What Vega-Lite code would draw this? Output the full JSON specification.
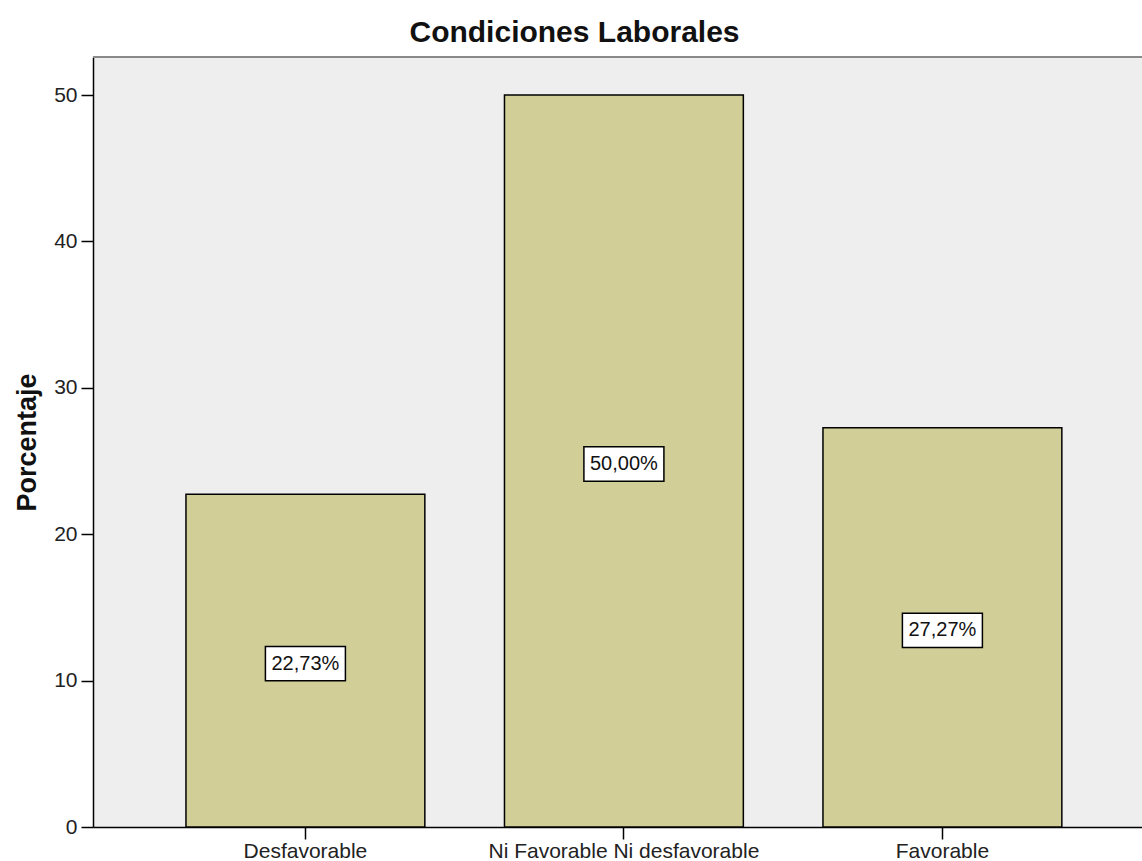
{
  "$schema": "https://vega.github.io/schema/vega-lite/v6.json",
  "autosize": "none",
  "width": 1049,
  "height": 770,
  "padding": {"left": 93, "top": 57, "right": 0, "bottom": 34},
  "background": "white",
  "title": {
    "text": "Condiciones Laborales",
    "font": "Liberation Sans",
    "fontSize": 30,
    "fontWeight": "bold",
    "color": "#111111",
    "anchor": "middle",
    "dx": -43,
    "dy": 30,
    "offset": 8,
    "baseline": "bottom"
  },
  "data": {
    "values": [
      {"condicion": "Desfavorable", "pct": 22.73, "label": "22,73%"},
      {"condicion": "Ni Favorable Ni desfavorable", "pct": 50.0, "label": "50,00%"},
      {"condicion": "Favorable", "pct": 27.27, "label": "27,27%"}
    ]
  },
  "layer": [
    {
      "mark": {"type": "rule", "color": "#8a8a8a", "strokeWidth": 2},
      "encoding": {
        "y": {"datum": 52.6, "type": "quantitative", "scale": {"domain": [0, 52.6], "nice": false}, "axis": null}
      }
    },
    {
      "mark": {"type": "bar", "fill": "#D2CE98", "stroke": "#000000", "strokeWidth": 1.5},
      "encoding": {
        "x": {
          "field": "condicion",
          "type": "nominal",
          "sort": null,
          "scale": {"paddingInner": 0.25, "paddingOuter": 0.2718, "align": 0.537},
          "axis": {
            "title": null,
            "labelAngle": 0,
            "labelLimit": 0,
            "labelFont": "Liberation Sans",
            "labelFontSize": 21,
            "labelColor": "#222222",
            "tickSize": 12,
            "tickColor": "#000000",
            "tickWidth": 1.5,
            "domainColor": "#000000",
            "domainWidth": 1.5,
            "labelPadding": 1,
            "grid": false
          }
        },
        "y": {
          "field": "pct",
          "type": "quantitative",
          "scale": {"domain": [0, 52.6], "nice": false},
          "axis": {
            "title": "Porcentaje",
            "titleFont": "Liberation Sans",
            "titleFontSize": 27,
            "titleFontWeight": "bold",
            "titleColor": "#111111",
            "titlePadding": 12,
            "values": [0, 10, 20, 30, 40, 50],
            "labelFont": "Liberation Sans",
            "labelFontSize": 21,
            "labelColor": "#222222",
            "labelPadding": 4,
            "tickSize": 12,
            "tickColor": "#000000",
            "tickWidth": 1.5,
            "domainColor": "#000000",
            "domainWidth": 1.5,
            "grid": false
          }
        }
      }
    },
    {
      "mark": {
        "type": "point",
        "shape": "M-1,-0.43L1,-0.43L1,0.43L-1,0.43Z",
        "size": 6400,
        "filled": true,
        "fill": "#ffffff",
        "stroke": "#000000",
        "strokeWidth": 1.5,
        "opacity": 1,
        "yOffset": 3
      },
      "encoding": {
        "x": {"field": "condicion", "type": "nominal", "sort": null},
        "y": {"field": "pct", "type": "quantitative", "scale": {"domain": [0, 105.2], "nice": false}, "axis": null}
      }
    },
    {
      "mark": {
        "type": "text",
        "font": "Liberation Sans",
        "fontSize": 20,
        "color": "#111111",
        "baseline": "middle",
        "align": "center",
        "yOffset": 3
      },
      "encoding": {
        "x": {"field": "condicion", "type": "nominal", "sort": null},
        "y": {"field": "pct", "type": "quantitative", "scale": {"domain": [0, 105.2], "nice": false}, "axis": null},
        "text": {"field": "label", "type": "nominal"}
      }
    }
  ],
  "resolve": {"scale": {"y": "independent"}, "axis": {"y": "independent"}},
  "config": {
    "view": {"stroke": null, "fill": "#EEEEEE"}
  }
}
